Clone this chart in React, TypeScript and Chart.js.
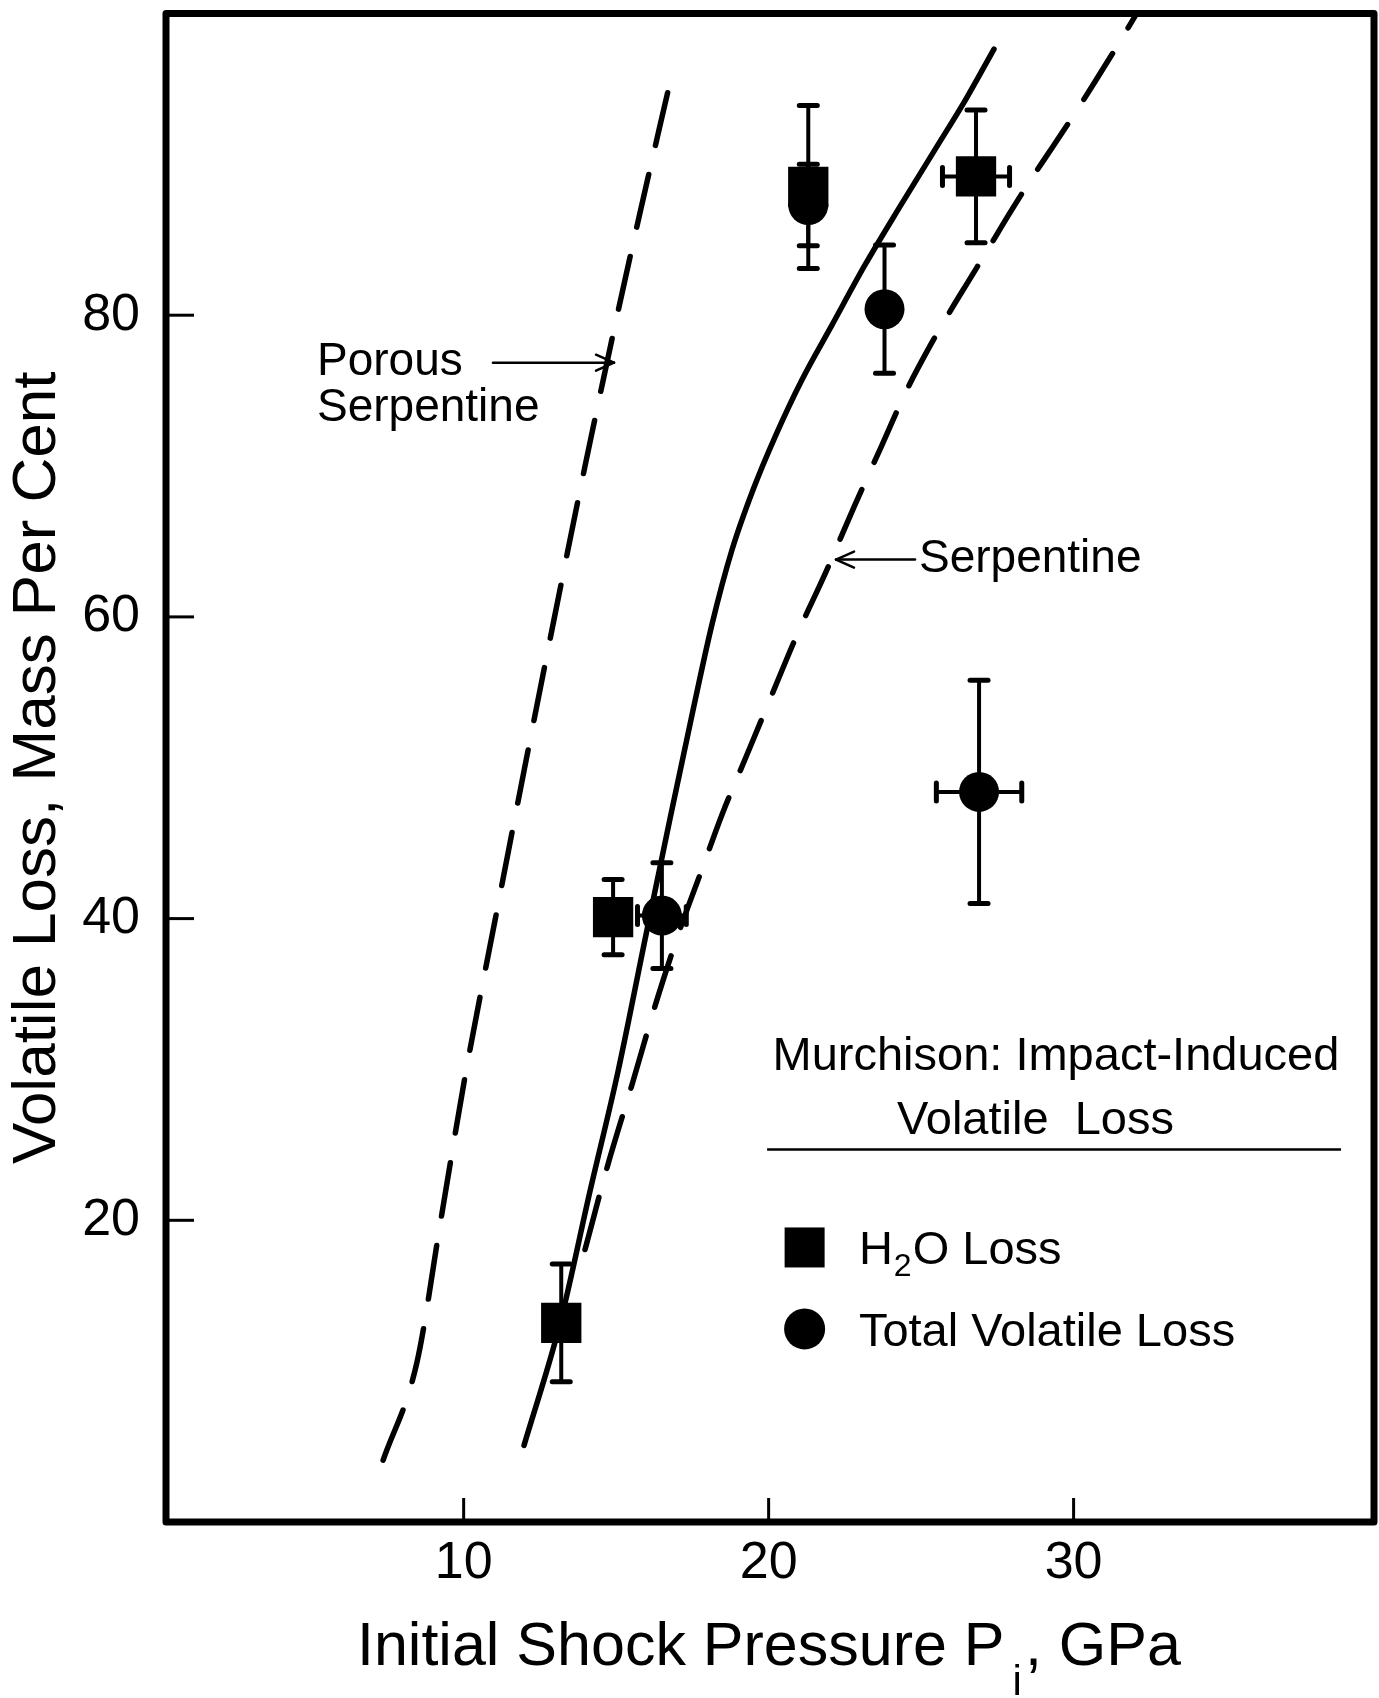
import React, { useEffect, useRef } from 'react';
import { Chart, registerables } from 'chart.js';
Chart.register(...registerables);

const FONT = '"Liberation Sans", Arial, sans-serif';

const xTicks = [10, 20, 30];
const yTicks = [20, 40, 60, 80];

// Porous serpentine (dashed, left)
const porousX = [7.36, 8.47, 9.25, 10.07, 11.03, 11.99, 12.98, 13.98, 14.97, 15.75, 16.75];
const porousY = [4.1, 10.6, 20.0, 29.8, 39.9, 49.9, 60.0, 70.0, 79.4, 86.5, 95.3];

// Murchison fit (solid)
const solidX = [11.98, 13.16, 14.14, 15.06, 15.98, 16.76, 17.49, 18.14, 18.8, 19.49, 20.24, 21.09, 22.08, 23.16, 24.3, 25.45, 26.47, 27.39];
const solidY = [5.08, 13.16, 21.9, 29.85, 38.94, 46.56, 53.52, 59.48, 64.45, 68.43, 72.07, 75.71, 79.36, 83.33, 87.18, 90.96, 94.33, 97.64];

// Serpentine (dashed, right)
const serpX = [13.98, 14.73, 15.52, 16.34, 17.09, 17.81, 18.47, 19.22, 20.04, 20.93, 21.88, 22.83, 23.72, 24.5, 25.22, 25.94, 26.6, 27.26, 27.91, 28.57, 29.29, 30.01, 30.7, 31.39, 32.08];
const serpY = [18.06, 23.69, 28.99, 34.63, 39.27, 43.24, 46.89, 50.53, 54.51, 58.81, 62.99, 67.43, 71.41, 74.92, 77.7, 80.22, 82.41, 84.6, 86.78, 88.9, 91.09, 93.28, 95.47, 97.72, 100.04];

// H2O loss (squares)
const h2oX = [13.2, 14.9, 21.3, 26.8];
const h2oY = [13.2, 40.1, 88.5, 89.2];
const h2oYErr = [3.9, 2.5, 5.4, 4.4];
const h2oXErr = [0, 0, 0, 1.1];

// Total volatile loss (circles)
const totX = [16.5, 21.3, 23.8, 26.9];
const totY = [40.2, 87.3, 80.4, 48.4];
const totYErr = [3.5, 2.7, 4.25, 7.4];
const totXErr = [0.8, 0, 0, 1.4];

const pts = (xs: number[], ys: number[]) => xs.map((v, i) => ({ x: v, y: ys[i] }));

function line(ctx: CanvasRenderingContext2D, x1: number, y1: number, x2: number, y2: number) {
  ctx.beginPath();
  ctx.moveTo(x1, y1);
  ctx.lineTo(x2, y2);
  ctx.stroke();
}

function arrowHead(ctx: CanvasRenderingContext2D, x: number, y: number, dir: number) {
  line(ctx, x, y, x - dir * 18, y - 8);
  line(ctx, x, y, x - dir * 18, y + 8);
}

const zeroPad = (s: any) => {
  s.paddingTop = 0;
  s.paddingBottom = 0;
  s.paddingLeft = 0;
  s.paddingRight = 0;
};

const overlay = {
  id: 'overlay',
  beforeDatasetsDraw(chart: any) {
    const { ctx, scales } = chart;
    const xs = scales.x, ys = scales.y;
    ctx.save();
    ctx.strokeStyle = '#000';
    ctx.lineCap = 'round';
    const drawErr = (X: number[], Y: number[], XE: number[], YE: number[]) => {
      for (let i = 0; i < X.length; i++) {
        const px = xs.getPixelForValue(X[i]);
        const py = ys.getPixelForValue(Y[i]);
        if (YE[i]) {
          const t = ys.getPixelForValue(Y[i] + YE[i]);
          const b = ys.getPixelForValue(Y[i] - YE[i]);
          ctx.lineWidth = 4;
          line(ctx, px, t, px, b);
          ctx.lineWidth = 5;
          line(ctx, px - 9, t, px + 9, t);
          line(ctx, px - 9, b, px + 9, b);
        }
        if (XE[i]) {
          const l = xs.getPixelForValue(X[i] - XE[i]);
          const r = xs.getPixelForValue(X[i] + XE[i]);
          ctx.lineWidth = 4;
          line(ctx, l, py, r, py);
          ctx.lineWidth = 5;
          line(ctx, l, py - 9, l, py + 9);
          line(ctx, r, py - 9, r, py + 9);
        }
      }
    };
    drawErr(h2oX, h2oY, h2oXErr, h2oYErr);
    drawErr(totX, totY, totXErr, totYErr);
    ctx.restore();
  },
  afterDatasetsDraw(chart: any) {
    const { ctx, chartArea, scales } = chart;
    const xs = scales.x, ys = scales.y;
    const X = (v: number) => xs.getPixelForValue(v);
    const Y = (v: number) => ys.getPixelForValue(v);
    ctx.save();
    ctx.strokeStyle = '#000';
    ctx.fillStyle = '#000';
    // frame
    ctx.lineWidth = 7;
    ctx.lineJoin = 'round';
    ctx.strokeRect(chartArea.left, chartArea.top, chartArea.right - chartArea.left, chartArea.bottom - chartArea.top);
    // inward ticks
    ctx.lineWidth = 3;
    ctx.lineCap = 'butt';
    xTicks.forEach((v) => line(ctx, X(v), chartArea.bottom, X(v), chartArea.bottom - 24));
    yTicks.forEach((v) => line(ctx, chartArea.left, Y(v), chartArea.left + 28, Y(v)));

    // annotations
    ctx.textBaseline = 'middle';
    ctx.textAlign = 'left';
    ctx.font = `46px ${FONT}`;
    ctx.fillText('Porous', X(5.19), Y(76.85));
    ctx.fillText('Serpentine', X(5.19), Y(73.8));
    ctx.lineWidth = 2.5;
    ctx.lineCap = 'round';
    line(ctx, X(10.96), Y(76.85), X(14.93), Y(76.85));
    arrowHead(ctx, X(14.93), Y(76.85), 1);
    ctx.fillText('Serpentine', X(24.93), Y(63.8));
    line(ctx, X(24.8), Y(63.8), X(22.21), Y(63.8));
    arrowHead(ctx, X(22.21), Y(63.8), -1);

    // legend block
    ctx.font = `47px ${FONT}`;
    ctx.textAlign = 'center';
    ctx.fillText('Murchison: Impact-Induced', X(29.42), Y(30.8));
    ctx.fillText('Volatile  Loss', X(28.75), Y(26.6));
    ctx.lineWidth = 2.5;
    ctx.lineCap = 'butt';
    line(ctx, X(19.95), Y(24.7), X(38.77), Y(24.7));
    const mx = X(21.18);
    ctx.fillRect(mx - 20, Y(18.2) - 20, 40, 40);
    ctx.beginPath();
    ctx.arc(mx, Y(12.8), 20.5, 0, Math.PI * 2);
    ctx.fill();
    ctx.textAlign = 'left';
    ctx.textBaseline = 'alphabetic';
    const tx = X(22.96);
    const by = Y(18.2) + 17;
    ctx.font = `47px ${FONT}`;
    ctx.fillText('H', tx, by);
    let w = ctx.measureText('H').width;
    ctx.font = `32px ${FONT}`;
    ctx.fillText('2', tx + w + 1, by + 12);
    w += ctx.measureText('2').width + 2;
    ctx.font = `47px ${FONT}`;
    ctx.fillText('O Loss', tx + w, by);
    ctx.fillText('Total Volatile Loss', tx, Y(12.8) + 17);

    // x axis title with subscript
    const base = 1665;
    let cx = 357;
    ctx.font = `61px ${FONT}`;
    ctx.fillText('Initial Shock Pressure P', cx, base);
    cx += ctx.measureText('Initial Shock Pressure P').width + 8;
    ctx.font = `42px ${FONT}`;
    ctx.fillText('i', cx, 1695);
    cx += ctx.measureText('i').width + 3;
    ctx.font = `61px ${FONT}`;
    ctx.fillText(', GPa', cx, base);
    ctx.restore();
  },
};

export default function App() {
  const ref = useRef<HTMLCanvasElement>(null);
  useEffect(() => {
    const lineDs = (xs: number[], ys: number[], dash: number[]) => ({
      type: 'line' as const,
      data: pts(xs, ys),
      borderColor: '#000',
      backgroundColor: '#000',
      borderWidth: 5.5,
      borderDash: dash,
      borderCapStyle: 'round' as const,
      pointRadius: 0,
      fill: false,
      cubicInterpolationMode: 'monotone' as const,
      showLine: true,
    });
    const chart = new Chart(ref.current!, {
      type: 'scatter',
      data: {
        datasets: [
          { ...lineDs(porousX, porousY, [54, 30]), label: 'Porous Serpentine' },
          { ...lineDs(solidX, solidY, []), label: 'Murchison' },
          { ...lineDs(serpX, serpY, [54, 30]), label: 'Serpentine' },
          {
            type: 'scatter',
            label: 'H2O Loss',
            data: pts(h2oX, h2oY),
            pointStyle: 'rect',
            pointRadius: 28.5,
            backgroundColor: '#000',
            borderColor: '#000',
            borderWidth: 0,
          },
          {
            type: 'scatter',
            label: 'Total Volatile Loss',
            data: pts(totX, totY),
            pointStyle: 'circle',
            pointRadius: 20,
            backgroundColor: '#000',
            borderColor: '#000',
            borderWidth: 0,
          },
        ],
      } as any,
      options: {
        responsive: false,
        animation: false,
        devicePixelRatio: 1,
        layout: { autoPadding: false, padding: { left: 0, top: 13.5, right: 5, bottom: 0 } },
        plugins: { legend: { display: false }, tooltip: { enabled: false } },
        scales: {
          x: {
            type: 'linear',
            position: 'bottom',
            min: 0.24,
            max: 39.85,
            afterBuildTicks: (s: any) => {
              s.ticks = xTicks.map((v) => ({ value: v }));
            },
            afterFit: (s: any) => {
              s.height = 176;
              zeroPad(s);
            },
            grid: { display: false, drawTicks: false },
            border: { display: false },
            ticks: {
              color: '#000',
              font: { size: 52, family: FONT },
              padding: 10,
              maxRotation: 0,
              autoSkip: false,
            },
          },
          y: {
            type: 'linear',
            min: 0,
            max: 100,
            afterBuildTicks: (s: any) => {
              s.ticks = yTicks.map((v) => ({ value: v }));
            },
            afterFit: (s: any) => {
              s.width = 166;
              zeroPad(s);
            },
            grid: { display: false, drawTicks: false },
            border: { display: false },
            ticks: {
              color: '#000',
              font: { size: 52, family: FONT },
              padding: 26,
              autoSkip: false,
            },
            title: {
              display: true,
              text: 'Volatile Loss, Mass Per Cent',
              color: '#000',
              font: { size: 62, family: FONT },
              padding: { top: 1, bottom: 0 },
            },
          },
        },
      } as any,
      plugins: [overlay],
    });
    return () => chart.destroy();
  }, []);
  return (
    <div style={{ position: 'absolute', left: 0, top: 0, width: 1379, height: 1698, background: '#fff' }}>
      <canvas ref={ref} width={1379} height={1698} style={{ display: 'block', width: 1379, height: 1698 }} />
    </div>
  );
}
